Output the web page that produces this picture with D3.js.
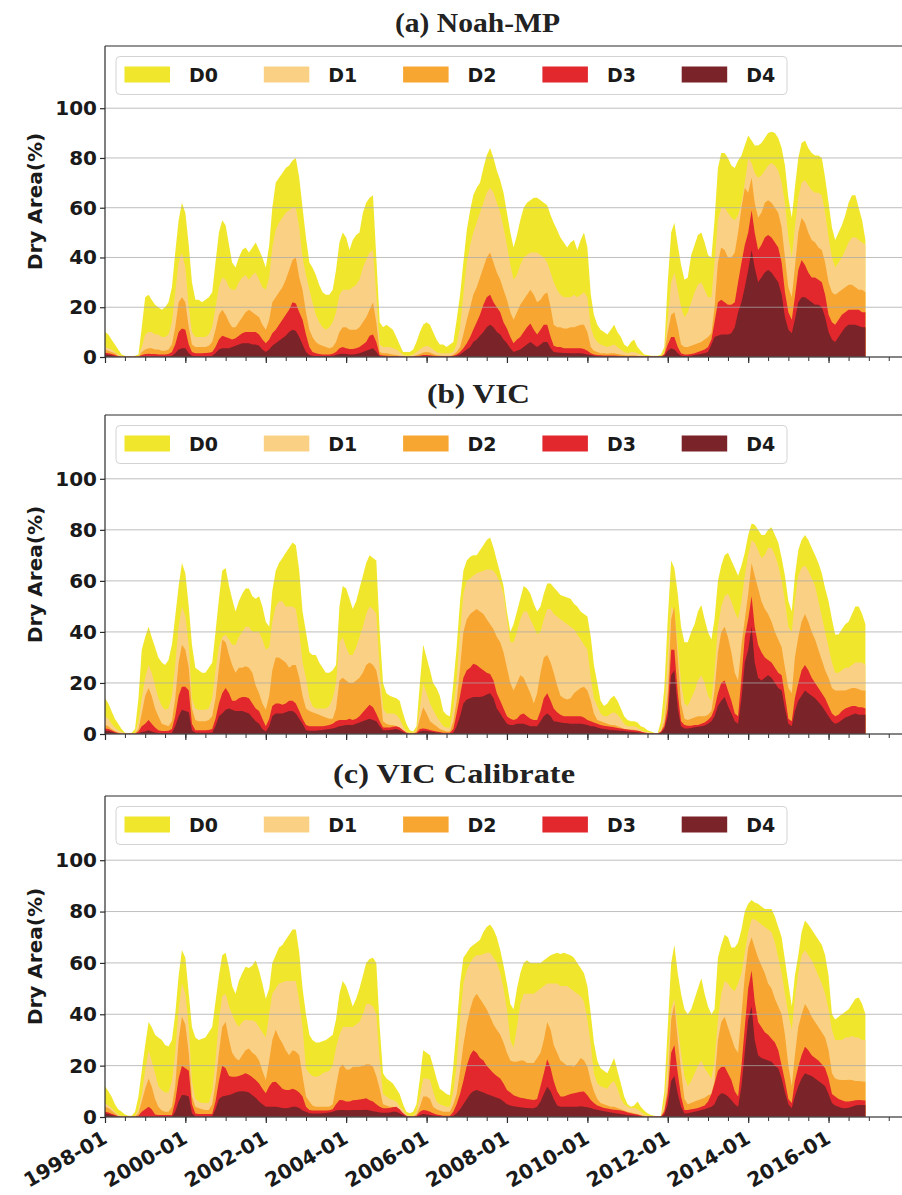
<!DOCTYPE html>
<html>
<head>
<meta charset="utf-8">
<script src="https://cdn.jsdelivr.net/npm/d3@7"></script>
<style>
  body { margin: 0; background: #fff; }
  svg { display: block; }
</style>
</head>
<body>
<script>
// Drought categories, cumulative share of area (%) in each category or worse
const categories = ["D0", "D1", "D2", "D3", "D4"];
const colors = ["#f0e72c", "#fad184", "#f8a632", "#e2272d", "#7a2328"];
const panelTitles = ["(a) Noah-MP", "(b) VIC", "(c) VIC Calibrate"];
const yTicks = [0, 20, 40, 60, 80, 100];
const xTickLabels = ["1998-01", "2000-01", "2002-01", "2004-01", "2006-01",
  "2008-01", "2010-01", "2012-01", "2014-01", "2016-01"];

// Monthly values, Jan 1998 - Dec 2016 (one row per year)
const noahD0 = [
10,9,7,5,3,1,0.5,0.3,0.3,0.5,1,12,
24,25,23,21,20,19,20,22,28,42,55,62,
58,45,30,23,23,22,23,24,26,38,50,55,
53,45,38,36,40,43,44,42,44,46,43,40,
36,45,60,70,72,74,76,77,79,80,72,60,
48,38,36,33,29,26,25,25,27,35,46,50,
48,43,47,49,50,58,62,64,65,40,14,12,
13,12,11,8,5,2,2,2,3,6,10,13,
14,13,10,7,5,5,4,5,6,15,25,38,
51,59,65,68,70,76,81,84,80,75,71,66,
58,50,44,49,55,60,62,63,64,64,63,62,
61,57,54,51,48,46,44,46,47,43,47,50,
44,25,17,13,11,10,9,11,13,10,8,5,
4,6,7,4,2.5,1,0.8,0.5,0.5,0.5,1,4,
30,50,54,45,37,31,32,41,45,49,50,46,
41,40,55,76,82,82,80,77,76,79,81,85,
89,87,85,85,86,88,90,90.5,90,88,84,77,
64,56,68,80,86,87,84,82,81,81,80,72,
62,52,47,50,53,57,62,65,65,60,55,47];
const noahD1 = [
4,3.5,3,2,1,0.5,0.2,0.2,0.2,0.2,0.2,4,
9,10,10,9,9,8,8,9,14,26,38,42,
36,20,10,8,8,8,8,9,12,20,28,32,
31,28,27,27,30,32,33,31,33,34,31,28,
27,32,44,51,54,56,58,59,60,60,52,40,
33,27,22,17,14,12,11,12,14,18,25,27,
27,27,28,29,31,36,39,42,43,25,5,4,
4,4,3.5,3,2,0.8,0.5,0.5,1,2,3,4,
4.5,4,3,2,1.5,1.5,1.5,1.5,2,5,12,25,
38,45,50,54,58,62,66,68,66,62,58,52,
45,37,31,33,37,40,41,42,42,42,41,40,
38,34,30,27,25,24,24,24,25,24,25,26,
24,12,8,6,5,4.5,4,4.5,5,4,3,2,
1.5,2,2,1.5,1,0.5,0.3,0.3,0.3,0.3,0.3,2,
15,30,34,27,20,16,18,22,26,29,30,27,
24,24,38,55,60,60,58,56,55,57,62,70,
80,78,74,72,73,75,77,78,77,75,70,62,
48,40,52,64,70,71,69,67,66,66,65,58,
48,40,36,38,40,43,46,48,48,47,46,45];
const noahD2 = [
3,2.5,2,1.5,0.5,0.2,0.2,0.2,0.2,0.2,0.2,2,
3,3.5,3.5,3,3,2.5,2.5,3,5,12,22,24,
22,12,5,4,4,4,4,4.5,6,11,17,19,
17,14,12,12,14,16,18,19,18,17,16,13,
11,15,22,24,26,28,31,35,39,40,32,27,
18,11,8,6,5,4.5,4,3.5,4,6,10,12,
12,11,11,11,12,14,16,19,22,14,2,1.5,
1.5,1.2,1,0.8,0.5,0.3,0.2,0.2,0.3,0.8,1.2,1.8,
2,1.8,1.2,0.8,0.6,0.5,0.5,0.5,1,2,4,9,
15,20,25,28,32,36,40,42,38,34,31,27,
23,18,15,18,21,23,25,27,25,22,23,25,
26,20,13,12,12,11.5,11.5,12,12,12.5,13,13,
10,4,2.5,2,1.5,1.5,1.3,1.5,1.5,1.2,1,0.8,
0.6,0.7,0.7,0.5,0.2,0.2,0.2,0.2,0.2,0.2,0.2,1.5,
10,17,18,12,5,4,4,4.5,5,5.5,6,7,
8,9.5,20,38,44,43,40,40,42,50,60,68,
66,72,62,56,58,62,63,62,60,58,52,40,
28,24,36,50,56,54,50,47,46,44,43,38,
30,26,25,26,27,28,29,29,28,27,27,26];
const noahD3 = [
1.7,1.5,1.2,0.8,0.3,0.1,0.1,0.1,0.1,0.1,0.1,0.8,
1.2,1.3,1.2,1.2,1,1,1,1.2,2,5,10,11.5,
11,5,2,1.5,1.5,1.5,1.6,1.7,2,4,7,8.5,
8,7.5,7,7.5,8.5,9.5,10,10,10,10,9,7,
5.5,7,9.5,11,13,15,17,19,22,21.5,18,15,
9,4,2,1.5,1.2,1,1,1,1.3,2,3.5,4,
3.5,3.2,3.2,3.5,4,5,6,8.5,9,6,0.8,0.6,
0.5,0.4,0.4,0.3,0.3,0.2,0.1,0.1,0.2,0.3,0.5,0.8,
0.8,0.7,0.5,0.4,0.3,0.3,0.3,0.3,0.5,1,2,3.5,
5.5,8,11,14,17,21,24,25,22,20,18,14,
11.5,8,5.5,7,8,10,12,13.5,11,9,11,13,
13,8,4.5,4,4,3.5,3.5,3.5,3.5,3.5,3.5,3.2,
2.5,1.5,1,0.8,0.7,0.6,0.6,0.6,0.6,0.5,0.4,0.3,
0.3,0.3,0.3,0.3,0.2,0.2,0.2,0.2,0.2,0.2,0.2,1,
5,8,8,4,1.5,1,1,1.2,1.5,2,2.5,3,
4,7,14,22,23,22,21,21,22,30,38,45,
50,59,50,43,45,48,49,48,46,44,38,26,
18,15,24,35,39,37,34,32,32,31,30,25,
17,14,13,15,17,18,19,19,19,19,18,18];
const noahD4 = [
1,0.9,0.7,0.4,0.2,0.1,0.1,0.1,0.1,0.1,0.1,0.2,
0.3,0.3,0.3,0.3,0.2,0.2,0.2,0.3,0.5,1.5,3,3.5,
3.5,1.5,0.5,0.3,0.3,0.3,0.3,0.3,0.5,1.5,3,3.5,
3.5,3.5,4,4.5,5,5.5,5.5,5.5,5,5,4.5,3,
2,3,4.5,5.5,6.5,7.5,8.5,10,11,10.5,8,5,
2,0.8,0.5,0.4,0.4,0.4,0.4,0.4,0.5,0.8,1.2,1.3,
1.2,1,1,1.2,1.5,2,2.5,3,3.5,2,0.3,0.3,
0.2,0.2,0.2,0.2,0.1,0.1,0.1,0.1,0.1,0.1,0.2,0.3,
0.3,0.3,0.2,0.2,0.2,0.2,0.2,0.2,0.3,0.5,1,2,
3,4,6,7,8.5,10,12,13,12,10,9,7,
5.5,3.5,2,2.5,3,4,5,6,5,4,5,6,
6,3.5,2,1.8,1.7,1.6,1.6,1.5,1.5,1.5,1.5,1.3,
1,0.8,0.5,0.3,0.3,0.3,0.3,0.3,0.3,0.2,0.2,0.2,
0.2,0.2,0.2,0.2,0.2,0.2,0.2,0.2,0.2,0.2,0.2,0.5,
2.5,3.5,3,1.5,0.5,0.4,0.4,0.5,0.8,1,1.3,1.5,
2,5,8,8.5,9,9,9,9.5,12,18,22,28,
35,43,36,30,32,34,35,34,32,30,25,16,
11,9.5,15,22,24,24,23,22,21,21,20,16,
10,7,6,8,10,12,13,13,13,12.5,12,12];

const vicD0 = [
14,12,9,6,4,2,0.5,0.3,0.5,2,14,33,
38,42,38,34,30,28,27,29,35,46,58,67,
63,50,35,26,25,24,24,26,28,40,53,64,
65,58,53,48,52,55,57,57,54,53,54,50,
44,42,56,64,67,69,71,73,75,74,64,48,
40,32,31,31,28,26,24,24,25,27,50,58,
57,53,49,52,57,62,67,70,69,68,40,20,
16,15,14.5,14,13,8,4,1.5,1,3,20,35,
30,25,20,18,15,9,7.5,7,20,34,52,64,
68,69.5,70,70,72,74,76,77,73,68,63,58,
48,40,43,48,53,58,57,55,51,48,50,55,
59,59,57.5,56,54.5,54,53.5,53,51,50,48,47,
46,38,27,20,13,11,12,14,15,13,10,7,
5.5,5,5,4.5,3,2.5,1.5,1,0.5,0.3,5,18,
45,68,65,55,42,36,36,40,43,48,50.5,45,
40,37,45,60,66,70,71,68,65,62,66,71,
78,82.5,82,80,78,78,80,81,78,75,69,62,
52,48,62,72,76,78,76,73,70,67,63,57,
52,45,39,39,41,43,44,47,50,50,47,43];
const vicD1 = [
7,6,4,2.5,1.5,0.8,0.3,0.2,0.3,0.5,5,14,
22,27,24,19,14,11,9.5,10,15,27,42,50,
46,35,14,10,9.5,9.5,9.5,10,14,25,34,38,
39,37,35,35,38,40,42,42,40,40,40,37,
33,34,44,50,52,52,50,50,50,49,40,28,
22,14,11,10,10,10,10,11,14,20,36,38,
34,31,31,34,38,42,47,50,49,47,25,10,
8,8,8,7.5,6,3,1,0.5,0.5,1.5,10,20,
16,12,9.5,7,5,3,2.5,2.5,10,21,40,55,
60,61,62,63,63.5,64,64.5,64.5,64,62,59,55,
45,36,36,40,45,48,48,45,42,39,40,45,
49,49,47,46,45,44,43,42,41,39,37,35,
33,22,14,11,8,7,7,8,8.5,7.5,6,4,
3,3,3,2.5,1.5,1,0.8,0.5,0.3,0.2,2,8,
30,50,48,35,20,12,11,14,17,21,23,20,
15,13,25,42,50,54,55,52,48,45,52,62,
70,76,75,72,69,70,73,73,70,66,60,52,
42,40,52,62,65,66,64,61,58,52,46,40,
34,28,24,24,25,26,26,27,28,28,28,27];
const vicD2 = [
3.5,3,2,1.2,0.6,0.2,0.2,0.2,0.2,0.3,2,8,
15,18,15,10,7,4,3.5,3,5,14,28,35,
33,26,10,5.5,5,5,5,5.5,7,14,26,37,
36,31,27,24,26,26,26.5,26,24,19,16,12,
9.5,15,25,30,30,29,28,26,27,27,22,15,
10,9,8.5,8,7.5,7,6.5,6,6,10,21,22,
21,20,20,21,22,24,27,28,27,25,18,5,
4,3.5,3.5,3,2.5,1.5,0.8,0.3,0.3,1,6,10.5,
8,5,4,3,2,1.5,1,1,5,13,26,40,
45,47,48,49,48,47,45,43,41,38,36,32,
26,20,17,20,23,22,19,16,12,16,24,30,
31,28,24,19,15,14,13.5,14,16,17,18,18.5,
17,13,8,5.5,5,4.5,4,3.5,3.5,3,2.5,2,
1.8,1.8,1.7,1.5,1,0.6,0.4,0.2,0.2,0.2,1,5,
16,45,50,30,12,6,5.5,6,6.5,7,7,7,
7.5,9,17,32,40,42,38,32,24,21,35,45,
55,67,62,57,52,49,47,44,40,37,34,26,
18,16,30,38,44,47,44,40,37,33,29,25,
22,18,17,17,17,17,17.5,18,18,17.5,17,17];
const vicD3 = [
2.2,2,1.5,0.8,0.4,0.1,0.1,0.1,0.1,0.1,1,3,
4,5.5,4,2.5,1.5,1.2,1.2,1.3,2,7,15,18.5,
18.5,17,4,1.5,1.5,1.5,1.5,1.6,2,6,12,16,
18,16,13,13,14,14.5,14.5,14,12,10,9,6,
3,6,11,12,12,11.5,12,13,13,12,9,6,
3.5,3,3,3,3,3,3.2,3.5,4,5,5.5,5.5,
5.5,6,5.5,6,7,8.5,10,11.5,10.5,8,5,2.5,
2.5,2.5,2.8,3,2.5,1.5,0.5,0.2,0.2,0.5,2,2.2,
2,1.6,1.3,1,0.8,0.5,0.5,0.5,2,8,15,22,
25,26,27.5,27,26,25,24,23.5,21,16,13,10,
7,6,5.5,6,7.5,8,7,6,5.5,5.5,9,14,
16,13,10,8.5,7.5,7,7,7,7,7,7,6.5,
5.5,5,4.5,4,3.5,3.2,3,2.8,2.6,2.4,2.2,2,
1.8,1.6,1.5,1.3,1,0.6,0.4,0.2,0.2,0.2,1,3,
10,33,33,16,5,3.5,3.2,3.2,3.5,3.5,4,4.5,
5.5,7,10,16,20,21,17,13,8,7,22,38,
45,54,42,35,32,30,29,28,26,24,23,15,
6,5,14,20,25,27,25,22,20,18,16,14,
11,8,7,7.5,9,10,10.5,11,11,10.5,10.5,10];
const vicD4 = [
1.3,1.2,0.9,0.5,0.2,0.1,0.1,0.1,0.1,0.1,0.3,0.8,
1,1.5,1,0.6,0.4,0.4,0.4,0.4,0.4,3,7,9.5,
9,8.5,1.5,0.5,0.5,0.5,0.5,0.5,0.5,3,7,8,
9.5,10,9.5,9,9,9,8.5,8,6.5,5,4,2,
1,3,7,8,8,8,8.5,9,9,8,6,4,
1.5,1.3,1.3,1.3,1.5,1.6,1.8,2,2.2,2.5,3,3.2,
3.5,3.5,3.5,4,4.5,5,5.5,6,5.5,5,3,1.5,
1.5,1.6,1.8,2,1.5,0.8,0.3,0.1,0.1,0.1,1,1.3,
1.2,1,0.8,0.6,0.5,0.3,0.3,0.3,0.5,3,7,12,
13.5,14,14.5,14.5,14.5,14.8,15.5,16,14,10,8,6,
4,3.5,3.5,4,4,4,3.5,3,3,3,5,7,
8,7,5,4.8,4.5,4.3,4.2,4,4,4,4,3.8,
3.5,3,3,2.5,2.2,2,1.8,1.6,1.5,1.4,1.3,1.2,
1,0.9,0.8,0.7,0.5,0.2,0.2,0.2,0.2,0.2,0.5,2,
7,23,25,10,3,2.2,2.2,2.4,2.6,2.8,3,3.3,
4,5,7,11,13,14.5,11,8,5,4,14,28,
33,42,28,22,21,22,23,22,20,18,17,10,
4,3,9,13,15,17,16,15,14,12.5,11,9,
7,5,4,4.5,5.5,6.5,7,7.5,8,7.5,7.5,7.5];

const calD0 = [
12,10,8,5,3,2,1,0.5,0.5,2,8,18,
28,37,35,32,31,30,28,27.5,30,40,55,65,
62,48,35,31,30,30.5,31,33,35,45,55,63,
64,58,51,48,53,56,58.5,58,59,61,57,52,
46,50,60,63,66,67,69,71,73,73,64,50,
40,32,30,29,29,29.5,30,31,32,38,48,53,
51,47,43,46,50,55,60,61.5,62,60,35,17,
15,14,13,11,9,5,2,1.5,2,5,15,26,
25,24,20,15,11,10,9,8.5,20,35,52,62,
64,66,67,68,69,72,74,75,73,70,65,59,
52,44,42,50,56,60,61,60,60,60,60,61,
62,63,63.5,64,63.5,64,63.5,63,62,60,58,56,
51,40,29,22,19,18,17,20,23,18,13,8,
5,4,4.5,6,4,2.5,1.5,0.8,0.5,0.3,0.5,10,
35,60,67,56,48,42,40,42,46,50,54,48,
43,40,42,62,67,71,70,66,66,68,73,80,
83,84.5,83.5,83,82,81,81,81,78,74,70,61,
52,43,55,63,72,76.5,75,73,71,69,67,63,
55,40,38,39,40,41,42,44,46,46.5,44,40];
const calD1 = [
5.3,4.5,3.5,2,1,0.5,0.2,0.2,0.2,0.5,3,9,
18,26,22,17,12,10.5,9.5,9.5,14,25,42,52,
48,35,14,7,6,5.5,5.5,5.5,10,22,38,47,
48,43,40,37,35,37,38,37.7,37.7,37,35,33,
31,40,48,50,52,52.5,53,53,53,53,45,35,
19,17,16,15.7,16,17,17.5,18,20,27,32,35,
35,35,35,36,37,40,44,44,43,40,22,9,
8,7,6.6,6,4,2.7,1,0.5,0.5,2,8,15,
15,14.5,10,6,5,4.5,4,4,10,20,38,52,
57,60,62,63,63,63.5,64,64,62,60,56,50,
42,30,27,35,44,48,48,48,48,49,50,51,
52,52,52,52,51,51,51,50,49,48,47,45,
38,28,17,13,12,11.5,11,13,14,11,7,5,
4,3.5,3.5,3,2,1,0.6,0.3,0.3,0.3,0.3,5,
22,42,46,35,25,16,12,14,17,20,22,19,
17,15,22,38,48,53,52,50,49,52,56,64,
72,77,77,76,75,74,73,72,68,62,56,48,
40,34,46,56,63,65,63,61,58,55,52,48,
42,34,30,30,30,31,31,31.5,31,31,30,30];
const calD2 = [
4,3.5,2.5,1.5,0.5,0.2,0.2,0.2,0.2,0.3,1.5,6,
11,15,12,7,4,2.5,2,2,4,12,30,39,
36,25,8,4,3.5,3,2.7,2.7,5,13,25,35,
37,30,25,23,22,24,26,26.7,25,24,22,18,
14.4,22,30,34,31,28.7,26,24,26,25.5,24,16,
8,6,4.5,4,4,4,4,4,5,12,19,20.5,
18.5,18.5,19.5,19.6,19.6,20,20.5,20.5,19.6,16,11,5,
4.5,4,4,3.5,2.5,1.5,0.5,0.3,0.3,1,4,8,
8,7,4,3,2.5,2,2,2,5,9,18,28,
36,42,46,48,46,44,42,39,36,34,32,29,
25,22,21.5,21.5,22,22,21,21,21,23,25,30,
37,34,28,25,22,21,20,20,19.6,21,23,22,
19.6,14,10,7,5.5,5,4.5,4,4,3.5,3,2.5,
2,1.8,1.5,1.2,0.8,0.5,0.2,0.2,0.2,0.2,0.2,3,
12,38,44,30,18,7,5,5.5,6,6.5,7,7.5,
8.5,9,14,30,37,39,35,31,27,25,40,55,
66,70,66,62,59,56,52,50,46,43,40,32,
20,12,24,35,40,44,42,39,37,35,33,31,
26,17,15,14.5,14.4,14.4,14.5,14.4,14,14,13.8,13.7];
const calD3 = [
2,1.8,1.3,0.8,0.3,0.1,0.1,0.1,0.1,0.1,0.5,2,
3,4,3,1,0.8,0.8,0.8,0.8,0.8,6,15,20,
19,18,5,1.4,1.2,1.2,1.2,1.2,1.2,6,14,20,
19,16,15.7,15.7,16,16.5,17,16.5,15.5,14.4,13,11,
9.2,12,13.5,13.7,12.5,11,10.5,10.5,11,10.5,9.5,8,
4,2.7,2.5,2.5,2.5,2.5,2.5,2.6,3,5,6.6,6.5,
6,6,6.5,6.6,6.8,7,7.3,6.5,6,5,4,3.4,
3.4,3.5,3.8,4,3,1.5,0.5,0.2,0.2,0.5,2,2.7,
2.5,2,1.5,1,0.8,0.5,0.5,0.5,2,5,9,14,
20,24,26,25,23,22,20,18.5,17,16,15,13,
10.5,9.5,8.5,8,7.5,7.3,7,6.8,6.6,7,12,17,
22.5,19,14,10,8,8,8.5,9,9.2,9.5,9.8,9.9,
8.5,6.6,5.5,4.5,4,3.5,3.3,3,2.8,2.7,2.5,2.2,
1.8,1.5,1.2,1,0.6,0.2,0.2,0.2,0.2,0.2,0.2,2,
9,25,28,17,8,2.7,2.7,3,3.2,3.5,4,4.5,
6,9,13,18,19.5,19.6,17,14.4,10,8,20,35,
50,57,45,37,35,33,32,30.5,29,26,20,14,
7,5.5,14,19.6,24,27.4,26,24,23,22,20.5,19,
15,9,8,7,6.5,6,6,6.2,6.5,6.6,6.5,6.4];
const calD4 = [
1.4,1.2,0.8,0.5,0.2,0.1,0.1,0.1,0.1,0.1,0.1,0.1,
0.1,0.1,0.1,0.1,0.1,0.1,0.1,0.1,0.1,2,6,8.6,
8.5,8,1.5,0.3,0.3,0.3,0.3,0.3,0.3,3,7,8,
8.3,8.6,9,9.5,9.9,10,9.9,9.5,8.5,7.5,6,5,
4,4,4,4,3.8,3.5,3.4,3.6,4,4,3.5,2.5,
2,1.5,1.4,1.4,1.4,1.5,1.6,1.8,2,2.5,2.7,2.7,
2.6,2.6,2.7,2.7,2.7,2.7,2.8,2.5,2.2,2,1.8,1.7,
1.7,1.8,2,2,1.5,0.8,0.2,0.1,0.1,0.1,0.8,1.2,
1,0.8,0.6,0.5,0.3,0.3,0.3,0.3,0.5,1.5,3,5,
7,9,10,10.5,10,9.5,9,8.5,8,7.5,7,6,
5,4.5,4.2,4,3.8,3.6,3.5,3.4,3.4,4,6,9,
11.8,10,7,4.5,4,4,4,4,4,4,4.2,4,
3.8,3.5,3,2.8,2.5,2.2,2,1.8,1.6,1.4,1.2,1,
0.8,0.7,0.6,0.5,0.3,0.1,0.1,0.1,0.1,0.1,0.1,1,
5,14,16,9,4,1.4,1.5,1.8,2,2.3,2.7,3,
3.5,4,5,8,9.2,9,8,6.6,5,4,12,25,
38,43,30,24,23,22.5,22,21.5,20,19,15,9.5,
5,3.4,8,12,15,17,16.5,16,15,14,13,12,
9,5.5,4.5,4,3.5,3.4,3.6,4,4.5,4.7,4.7,4.7];

// ---- layout ----
const W = 902, H = 1195;
const plotLeft = 105, plotRight = 909;
const start = new Date(1998, 0, 1);
const months = d3.range(noahD0.length).map(i => d3.timeMonth.offset(start, i));

const panels = [
  { title: panelTitles[0], series: [noahD0, noahD1, noahD2, noahD3, noahD4],
    top: 46, bottom: 357, titleX: 395, titleY: 32, titleW: 165 },
  { title: panelTitles[1], series: [vicD0, vicD1, vicD2, vicD3, vicD4],
    top: 415, bottom: 734, titleX: 427, titleY: 403, titleW: 103 },
  { title: panelTitles[2], series: [calD0, calD1, calD2, calD3, calD4],
    top: 796, bottom: 1117, titleX: 333, titleY: 783, titleW: 242 }
];

const sans = "'DejaVu Sans', Verdana, sans-serif";
const serif = "'Liberation Serif', 'Times New Roman', serif";
const ink = "#1a1a1a";

const svg = d3.select("body").append("svg")
  .attr("width", W).attr("height", H)
  .attr("viewBox", `0 0 ${W} ${H}`);

const x = d3.scaleTime()
  .domain([start, new Date(2018, 0, 1)])
  .range([plotLeft, plotRight]);

const minorTicks = d3.timeMonth.every(6).range(start, new Date(2017, 7, 2));
const majorTicks = d3.timeYear.every(2).range(start, new Date(2017, 0, 2));

panels.forEach((p, pi) => {
  const g = svg.append("g");
  const y = d3.scaleLinear().domain([0, 125]).range([p.bottom, p.top]);

  const clipId = `plot-clip-${pi}`;
  svg.append("defs").append("clipPath").attr("id", clipId)
    .append("rect")
    .attr("x", plotLeft).attr("y", p.top)
    .attr("width", W - plotLeft).attr("height", p.bottom - p.top);

  // cumulative category areas, mildest first so darker ones sit on top
  const area = d3.area()
    .x((d, i) => x(months[i]))
    .y0(y(0))
    .y1(d => y(d));

  const areas = g.append("g").attr("clip-path", `url(#${clipId})`);
  p.series.forEach((vals, i) => {
    areas.append("path")
      .datum(vals)
      .attr("d", area)
      .attr("fill", colors[i]);
  });

  // horizontal grid
  g.append("g").selectAll("line")
    .data(yTicks)
    .join("line")
    .attr("x1", plotLeft).attr("x2", W)
    .attr("y1", d => y(d)).attr("y2", d => y(d))
    .attr("stroke", "#a8a8a8")
    .attr("stroke-opacity", 0.75)
    .attr("stroke-width", 1);

  // frame
  const frame = g.append("g").attr("stroke", "#2b2b2b").attr("stroke-width", 1.2);
  frame.append("line").attr("x1", plotLeft).attr("x2", W)
    .attr("y1", p.top).attr("y2", p.top);
  frame.append("line").attr("x1", plotLeft).attr("x2", plotLeft)
    .attr("y1", p.top).attr("y2", p.bottom);
  frame.append("line").attr("x1", plotLeft).attr("x2", W)
    .attr("y1", p.bottom).attr("y2", p.bottom);

  // y axis
  const yAxis = g.append("g")
    .attr("transform", `translate(${plotLeft},0)`)
    .call(d3.axisLeft(y).tickValues(yTicks).tickSize(5).tickPadding(3));
  yAxis.select(".domain").remove();
  yAxis.selectAll(".tick line").attr("stroke", "#2b2b2b").attr("stroke-width", 1.2);
  yAxis.selectAll(".tick text")
    .attr("fill", ink)
    .style("font-family", sans)
    .style("font-size", "20px")
    .style("font-weight", "bold");

  // x axis: half-year minor ticks, two-year major ticks
  const xMinor = g.append("g")
    .attr("transform", `translate(0,${p.bottom})`)
    .call(d3.axisBottom(x).tickValues(minorTicks).tickSize(4).tickFormat(""));
  xMinor.select(".domain").remove();
  xMinor.selectAll(".tick line").attr("stroke", "#333").attr("stroke-width", 1);

  const showLabels = pi === panels.length - 1;
  const xMajor = g.append("g")
    .attr("transform", `translate(0,${p.bottom})`)
    .call(d3.axisBottom(x).tickValues(majorTicks).tickSize(6)
      .tickFormat((d, i) => showLabels ? xTickLabels[i] : ""));
  xMajor.select(".domain").remove();
  xMajor.selectAll(".tick line").attr("stroke", "#2b2b2b").attr("stroke-width", 1.2);
  xMajor.selectAll(".tick text")
    .attr("x", 0).attr("y", 0).attr("dy", 0)
    .attr("text-anchor", "end")
    .attr("transform", "translate(3,25) rotate(-30)")
    .attr("fill", ink)
    .style("font-family", sans)
    .style("font-size", "20px")
    .style("font-weight", "bold");

  // y label
  g.append("text")
    .attr("transform", `translate(42,${(p.top + p.bottom) / 2}) rotate(-90)`)
    .attr("text-anchor", "middle")
    .attr("fill", ink)
    .style("font-family", sans)
    .style("font-size", "20px")
    .style("font-weight", "bold")
    .text("Dry Area(%)");

  // legend
  const lg = g.append("g").attr("transform", `translate(116,${p.top + 10.5})`);
  lg.append("rect")
    .attr("width", 671).attr("height", 38).attr("rx", 4)
    .attr("fill", "#fff").attr("fill-opacity", 0.8)
    .attr("stroke", "#d4d4d4").attr("stroke-width", 1);
  categories.forEach((c, i) => {
    const ox = i * 139.3;
    lg.append("rect")
      .attr("x", 8.5 + ox).attr("y", 10)
      .attr("width", 45.5).attr("height", 16)
      .attr("fill", colors[i]);
    lg.append("text")
      .attr("x", 73 + ox).attr("y", 25)
      .attr("fill", ink)
      .style("font-family", sans)
      .style("font-size", "19px")
      .style("font-weight", "bold")
      .text(c);
  });

  // panel title
  g.append("text")
    .attr("x", p.titleX).attr("y", p.titleY)
    .attr("textLength", p.titleW)
    .attr("lengthAdjust", "spacingAndGlyphs")
    .attr("fill", "#222")
    .style("font-family", serif)
    .style("font-size", "27px")
    .style("font-weight", "bold")
    .text(p.title);
});
</script>
</body>
</html>
